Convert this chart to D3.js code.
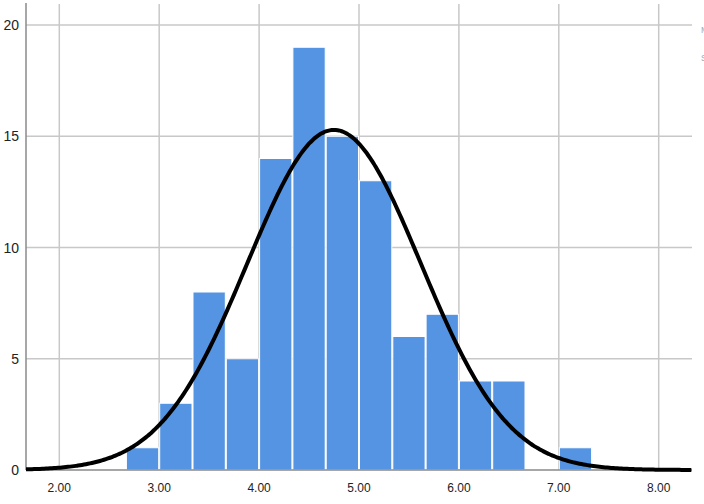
<!DOCTYPE html>
<html>
<head>
<meta charset="utf-8">
<script src="https://cdn.jsdelivr.net/npm/d3@7"></script>
<style>
  html, body { margin: 0; padding: 0; background: #fff; overflow: hidden; }
  svg { display: block; }
</style>
</head>
<body>
<svg id="chart" width="704" height="504"></svg>
<script>
// ---- data ----
const binStarts = [2.6667, 3.0, 3.3333, 3.6667, 4.0, 4.3333, 4.6667, 5.0, 5.3333, 5.6667, 6.0, 6.3333, 6.6667, 7.0];
const binCounts = [1, 3, 8, 5, 14, 19, 15, 13, 6, 7, 4, 4, 0, 1];
const binWidth = 1 / 3;
const xTicks = [2, 3, 4, 5, 6, 7, 8];
const yTicks = [0, 5, 10, 15, 20];
const fitMean = 4.75;
const fitSd = 0.87;
const totalN = 100;
const legendLines = ["Mean = 4.75", "Std. Dev. = 0.87"];

(function () {
  const svg = d3.select("#chart");
  const mLeft = 26, mRight = 692, mTop = 2, mBottom = 470;

  const x = d3.scaleLinear().domain([1.6667, 8.3333]).range([mLeft, mRight]);
  const y = d3.scaleLinear().domain([0, 20]).range([mBottom, 25]);

  const gridColor = "#c8c8c8";

  // horizontal grid
  svg.append("g").selectAll("line").data(yTicks.filter(d => d > 0)).join("line")
    .attr("x1", mLeft).attr("x2", mRight)
    .attr("y1", d => y(d)).attr("y2", d => y(d))
    .attr("stroke", gridColor).attr("stroke-width", 1.5);

  // vertical grid
  svg.append("g").selectAll("line").data(xTicks).join("line")
    .attr("x1", d => x(d)).attr("x2", d => x(d))
    .attr("y1", mTop + 2).attr("y2", mBottom)
    .attr("stroke", gridColor).attr("stroke-width", 1.5);

  // bars
  const bins = binStarts.map((s, i) => ({ x0: s, x1: s + binWidth, n: binCounts[i] })).filter(b => b.n > 0);
  svg.append("g").selectAll("rect").data(bins).join("rect")
    .attr("x", d => x(d.x0) + 0.5)
    .attr("width", d => x(d.x1) - x(d.x0) - 1)
    .attr("y", d => y(d.n))
    .attr("height", d => y(0) - y(d.n))
    .attr("fill", "#5494e3")
    .attr("stroke", "#ffffff")
    .attr("stroke-width", 1);

  // axis lines
  svg.append("line")
    .attr("x1", mLeft).attr("x2", mLeft).attr("y1", mTop + 1).attr("y2", mBottom)
    .attr("stroke", "#8a8a8a").attr("stroke-width", 1.5);
  svg.append("line")
    .attr("x1", mLeft).attr("x2", mRight).attr("y1", mBottom).attr("y2", mBottom)
    .attr("stroke", "#8a8a8a").attr("stroke-width", 1.5);

  // normal curve
  const pdf = v => totalN * binWidth / (fitSd * Math.sqrt(2 * Math.PI)) * Math.exp(-0.5 * ((v - fitMean) / fitSd) ** 2);
  const xs = d3.range(x.domain()[0], x.domain()[1] + 0.0001, 0.02);
  svg.append("path")
    .datum(xs)
    .attr("d", d3.line().x(d => x(d)).y(d => y(pdf(d))).curve(d3.curveBasis))
    .attr("fill", "none")
    .attr("stroke", "#000")
    .attr("stroke-width", 4);

  // tick labels
  svg.append("g").selectAll("text").data(yTicks).join("text")
    .attr("x", 19).attr("y", d => y(d) + 5)
    .attr("text-anchor", "end")
    .attr("font-family", "Liberation Sans, Arial, sans-serif")
    .attr("font-size", 14)
    .attr("fill", "#222")
    .text(d => d);

  svg.append("g").selectAll("text").data(xTicks).join("text")
    .attr("x", d => x(d)).attr("y", 492)
    .attr("text-anchor", "middle")
    .attr("font-family", "Liberation Sans, Arial, sans-serif")
    .attr("font-size", 12)
    .attr("fill", "#222")
    .text(d => d3.format(".2f")(d));

  // legend text (cut off at the right edge, as in the reference)
  svg.append("g").selectAll("text").data(legendLines).join("text")
    .attr("x", 701).attr("y", (d, i) => 33 + i * 28)
    .attr("font-family", "Liberation Sans, Arial, sans-serif")
    .attr("font-size", 9)
    .attr("fill", "#aaa")
    .text(d => d);
})();
</script>
</body>
</html>
